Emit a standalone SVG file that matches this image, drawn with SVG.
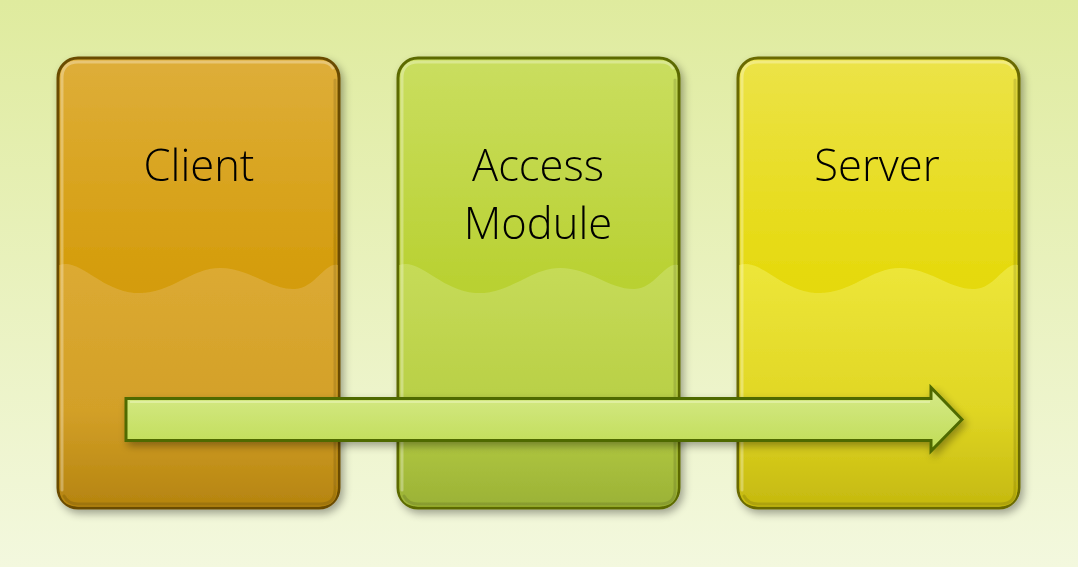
<svg xmlns="http://www.w3.org/2000/svg" width="1078" height="567" viewBox="0 0 1078 567">
<defs>
<linearGradient id="bg" x1="0" y1="0" x2="0" y2="1"><stop offset="0" stop-color="#dfeb9e"/><stop offset="1" stop-color="#f3f8de"/></linearGradient>
<linearGradient id="gC" x1="0" y1="0" x2="0" y2="1"><stop offset="0" stop-color="#deae3a"/><stop offset="0.5" stop-color="#d49c0a"/></linearGradient>
<linearGradient id="gCl" x1="0" y1="0" x2="0" y2="1"><stop offset="0" stop-color="#dcaa32"/><stop offset="0.6" stop-color="#d3a028"/><stop offset="1" stop-color="#b5840f"/></linearGradient>
<linearGradient id="gA" x1="0" y1="0" x2="0" y2="1"><stop offset="0" stop-color="#cade60"/><stop offset="0.5" stop-color="#b9d132"/></linearGradient>
<linearGradient id="gAl" x1="0" y1="0" x2="0" y2="1"><stop offset="0" stop-color="#c6db58"/><stop offset="0.6" stop-color="#b8cf45"/><stop offset="1" stop-color="#9bb236"/></linearGradient>
<linearGradient id="gS" x1="0" y1="0" x2="0" y2="1"><stop offset="0" stop-color="#ece348"/><stop offset="0.5" stop-color="#e5d90c"/></linearGradient>
<linearGradient id="gSl" x1="0" y1="0" x2="0" y2="1"><stop offset="0" stop-color="#ede639"/><stop offset="0.6" stop-color="#e0d624"/><stop offset="1" stop-color="#c5b90f"/></linearGradient>
<linearGradient id="gArr" x1="0" y1="0" x2="0" y2="1"><stop offset="0" stop-color="#d6ea8a"/><stop offset="1" stop-color="#c0dc55"/></linearGradient>
<filter id="sh" x="-10%" y="-10%" width="130%" height="130%"><feGaussianBlur in="SourceAlpha" stdDeviation="4"/><feOffset dx="3" dy="4"/><feComponentTransfer><feFuncA type="linear" slope="0.35"/></feComponentTransfer><feMerge><feMergeNode/><feMergeNode in="SourceGraphic"/></feMerge></filter>
</defs>
<style>
.lbl{font-family:"Open Sans","Noto Sans",sans-serif;font-weight:300;font-size:43.5px;fill:#000;text-anchor:middle}
.hl{fill:none;stroke:#ffffff;stroke-opacity:0.3;stroke-width:3;stroke-linecap:round}
.dk{fill:none;stroke:#000000;stroke-opacity:0.12;stroke-width:3;stroke-linecap:round}
</style>
<rect width="1078" height="567" fill="url(#bg)"/>
<g id="client" filter="url(#sh)">
<rect x="58" y="58" width="281" height="450" rx="20" fill="url(#gC)" stroke="#6a4c00" stroke-width="3"/>
<path d="M59.5 265 C80 258 100 290 135 293 C170 295 190 268 220 268 C250 268 270 290 295 289 C315 288 325 262 337.5 265 L337.5 488 Q337.5 506.5 319 506.5 L78 506.5 Q59.5 506.5 59.5 488 Z" fill="url(#gCl)"/>
<path d="M62 490 L62 78 Q62 62 78 62 L320 62 Q330 62 333 68" class="hl"/>
<path d="M335 80 L335 490 Q335 504 320 504 L78 504 Q68 504 64 496" class="dk"/>
<text class="lbl" x="199" y="181">Client</text>
</g>
<g id="access" filter="url(#sh)">
<rect x="398" y="58" width="281" height="450" rx="20" fill="url(#gA)" stroke="#5c6a00" stroke-width="3"/>
<path d="M399.5 265 C420 258 440 290 475 293 C510 295 530 268 560 268 C590 268 610 290 635 289 C655 288 665 262 677.5 265 L677.5 488 Q677.5 506.5 659 506.5 L418 506.5 Q399.5 506.5 399.5 488 Z" fill="url(#gAl)"/>
<path d="M402 490 L402 78 Q402 62 418 62 L660 62 Q670 62 673 68" class="hl"/>
<path d="M675 80 L675 490 Q675 504 660 504 L418 504 Q408 504 404 496" class="dk"/>
<text class="lbl" x="538" y="181">Access</text>
<text class="lbl" x="538" y="239">Module</text>
</g>
<g id="server" filter="url(#sh)">
<rect x="738" y="58" width="281" height="450" rx="20" fill="url(#gS)" stroke="#6a6a00" stroke-width="3"/>
<path d="M739.5 265 C760 258 780 290 815 293 C850 295 870 268 900 268 C930 268 950 290 975 289 C995 288 1005 262 1017.5 265 L1017.5 488 Q1017.5 506.5 999 506.5 L758 506.5 Q739.5 506.5 739.5 488 Z" fill="url(#gSl)"/>
<path d="M742 490 L742 78 Q742 62 758 62 L1000 62 Q1010 62 1013 68" class="hl"/>
<path d="M1015 80 L1015 490 Q1015 504 1000 504 L758 504 Q748 504 744 496" class="dk"/>
<text class="lbl" x="877" y="181">Server</text>
</g>
<g id="connectors" filter="url(#sh)">
<path d="M126 398.5 L931 398.5 L931 387.5 L962 419.5 L931 451 L931 440.5 L126 440.5 Z" fill="url(#gArr)" stroke="#4f6a00" stroke-width="3" stroke-linejoin="miter"/>
<path d="M130 402 L930 402" stroke="#eaf5b8" stroke-width="2" opacity="0.6"/>
</g>
</svg>
